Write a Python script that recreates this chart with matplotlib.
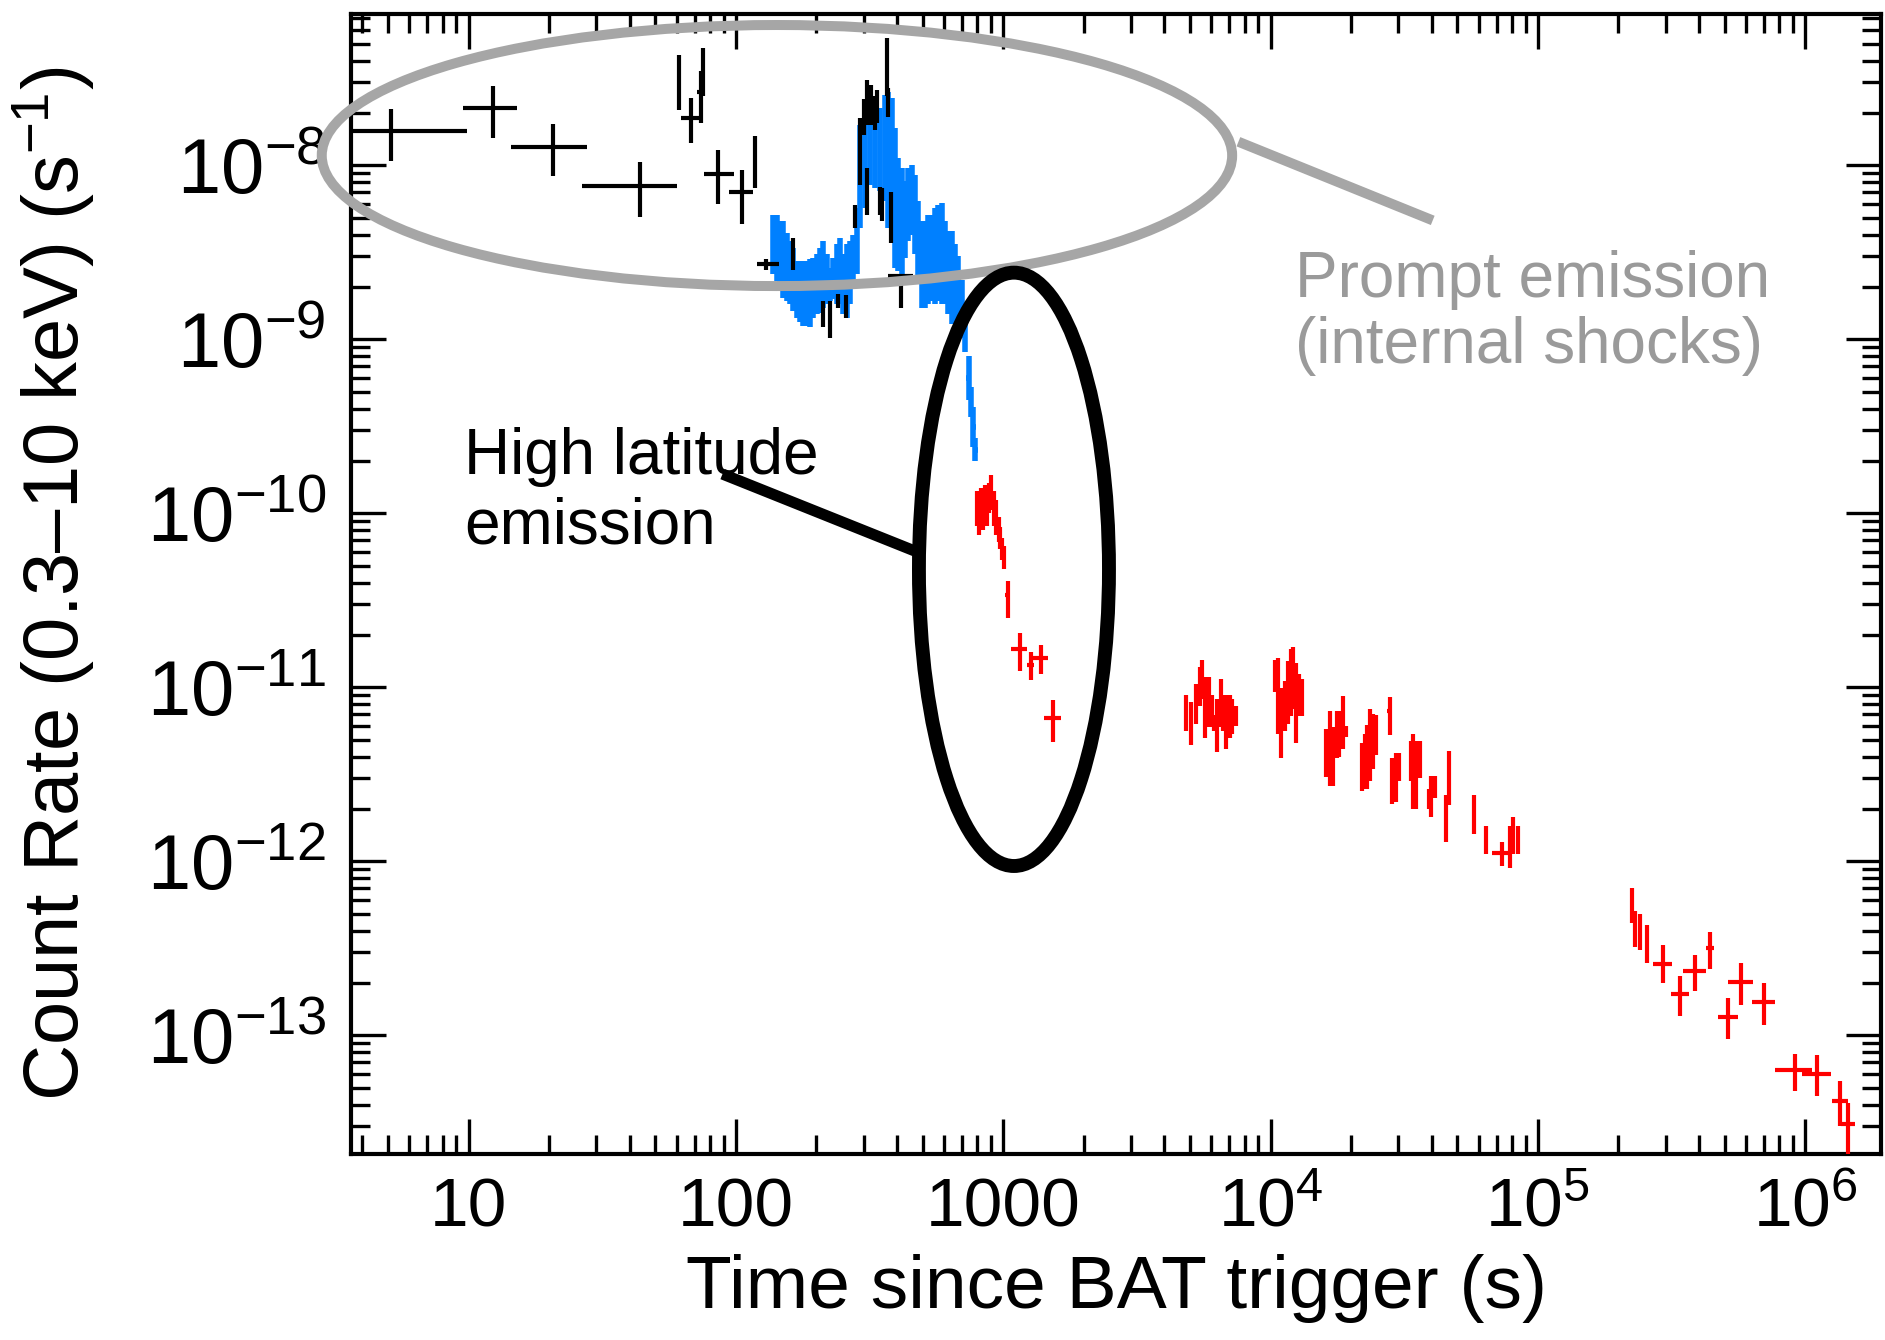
import numpy as np
import matplotlib
matplotlib.use("Agg")
import matplotlib.pyplot as plt
from matplotlib.patches import Ellipse
from matplotlib.ticker import LogLocator, FuncFormatter, NullFormatter

plt.rcParams['font.family'] = ['Liberation Sans', 'DejaVu Sans']
plt.rcParams['mathtext.fontset'] = 'custom'
plt.rcParams['mathtext.rm'] = 'Liberation Sans'
plt.rcParams['mathtext.it'] = 'Liberation Sans:italic'

# --- BAT data extrapolated to XRT band (black), rates in units of 1e-9 ---
bat_t = [5.12, 12.3, 20.7, 43.6, 61.1, 67.6, 75.0, 74.0, 86.0, 105.0, 118.0, 130.0,
         164.0, 212.0, 224.5, 241.0, 259.0, 278.5, 291.0, 300.0, 310.0, 310.0, 320.0,
         330.0, 338.0, 345.0, 352.0, 366.0, 372.0, 380.0, 416.0]
bat_terr_lo = [2.45, 2.77, 6.3, 17.0, 0.8, 5.1, 0.8, 2.5, 10.3, 10.6, 1.5, 10.0,
               1.5, 1.5, 1.5, 1.5, 1.5, 1.5, 1.5, 1.5, 1.5, 1.5, 1.5,
               1.5, 1.5, 1.5, 1.5, 1.5, 1.5, 1.5, 45.0]
bat_terr_hi = [4.70, 2.90, 6.9, 16.8, 0.8, 5.7, 0.8, 2.5, 12.0, 10.6, 1.5, 15.0,
               1.5, 1.5, 1.5, 1.5, 1.5, 1.5, 1.5, 1.5, 1.5, 1.5, 1.5,
               1.5, 1.5, 1.5, 1.5, 1.5, 1.5, 1.5, 45.0]
bat_rate = [15.8, 21.3, 12.8, 7.58, 31.4, 18.7, 35.4, 26.5, 8.96, 7.03, 11.0, 2.7,
            3.1, 1.4, 1.3, 1.65, 1.5, 5.2, 12.0, 19.0, 24.0, 7.0, 23.0,
            20.0, 22.0, 6.5, 6.0, 35.0, 24.0, 5.0, 2.31]
bat_lo = [10.6, 14.4, 8.65, 5.06, 20.8, 13.4, 24.9, 17.5, 6.0, 4.6, 7.4, 2.5,
          2.5, 1.17, 1.02, 1.52, 1.33, 4.38, 7.7, 15.0, 17.0, 5.2, 17.0,
          16.0, 17.5, 5.2, 4.8, 25.0, 19.0, 3.6, 1.52]
bat_hi = [21.1, 28.4, 17.3, 10.4, 43.1, 24.3, 47.1, 35.0, 12.3, 9.45, 14.7, 2.9,
          3.8, 1.66, 1.66, 1.81, 1.8, 5.94, 18.7, 24.0, 31.0, 9.7, 29.0,
          25.0, 27.0, 7.5, 7.4, 54.0, 28.0, 7.0, 2.31]

# --- XRT Windowed Timing data (blue), band limits in units of 1e-9 ---
wt_t = [137.8, 141.9, 146.0, 150.2, 154.6, 159.1, 163.8, 168.5, 173.4, 178.4,
        183.7, 189.0, 194.5, 200.2, 206.0, 212.0, 218.2, 224.5, 231.1, 237.8,
        244.7, 251.9, 259.2, 266.8, 274.5, 282.5, 290.7, 303.5, 316.9, 330.8,
        345.4, 360.6, 371.1, 381.9, 393.0, 404.5, 416.3, 428.4, 440.9, 453.7,
        466.9, 480.5, 494.5, 508.9, 523.8, 539.0, 554.7, 570.9, 587.5, 604.6,
        622.3, 640.4, 659.1, 678.3, 698.1, 718.4, 742.0, 758.0, 773.0, 786.0]
wt_hi = [5.21, 5.21, 4.78, 4.78, 4.09, 3.66, 3.36, 2.82, 2.82, 2.82,
         2.82, 2.88, 2.94, 3.08, 3.36, 3.66, 3.08, 2.58, 2.94, 3.51,
         3.83, 3.08, 3.51, 3.66, 4.00, 5.69, 17.1, 18.7, 17.1, 19.5,
         21.3, 25.4, 26.5, 24.3, 16.4, 11.0, 9.66, 8.09, 9.66, 10.1,
         8.83, 6.22, 4.78, 4.78, 5.21, 5.21, 5.69, 5.94, 6.08, 4.78,
         4.19, 4.19, 3.51, 3.0, 2.2, 1.5, 0.80, 0.53, 0.41, 0.27]
wt_lo = [2.36, 2.16, 1.98, 1.73, 1.66, 1.59, 1.46, 1.33, 1.25, 1.19,
         1.19, 1.17, 1.33, 1.39, 1.42, 1.52, 1.59, 1.66, 1.70, 1.59,
         1.59, 1.39, 1.33, 1.59, 2.07, 2.36, 4.38, 5.69, 7.74, 7.41,
         7.10, 6.22, 4.38, 3.66, 2.58, 2.47, 2.36, 2.94, 3.66, 4.00,
         3.08, 2.16, 1.52, 1.52, 1.59, 1.66, 1.59, 1.66, 1.59, 1.59,
         1.39, 1.22, 1.22, 1.07, 1.02, 0.85, 0.45, 0.36, 0.24, 0.20]

# --- XRT Photon Counting data (red), rates in units of 1e-12 ---
pc_t = [795, 810, 825, 840, 855, 870, 885, 903, 920, 940, 960, 975, 990, 1005, 1040,
        1150, 1264, 1378, 1528,
        4820, 5050, 5270, 5420, 5550, 5690, 5870, 6060, 6160, 6310, 6510, 6620,
        6830, 7030, 7160, 7390,
        10360, 10660, 10960, 11310, 11630, 11910, 12150, 12390, 12740, 13100,
        16170, 16690, 17160, 17640, 18070, 18580, 19100,
        21950, 22470, 22930, 23570, 24230, 24720,
        27850, 28410, 29330, 30160,
        33420, 34110, 35050, 36200,
        39030, 39810, 41100, 45380, 46670, 57820,
        64120, 73380, 78490, 80690, 83970,
        224700, 231100, 240400, 255300, 293200, 341000, 387100, 441300,
        515200, 575900, 702500, 916200, 1109000, 1352000, 1446000]
pc_terr = [10, 10, 10, 10, 10, 10, 10, 10, 10, 10, 12, 12, 18, 18, 22,
           80, 40, 90, 110,
           60, 90, 60, 60, 60, 60, 60, 60, 60, 60, 60, 60,
           60, 60, 60, 90,
           150, 120, 120, 150, 120, 120, 120, 150, 120, 200,
           300, 250, 250, 250, 250, 250, 300,
           300, 250, 250, 250, 250, 300,
           500, 400, 400, 400,
           500, 400, 500, 500,
           500, 600, 600, 600, 700, 800,
           900, 5800, 1500, 1200, 1500,
           4000, 4000, 4000, 4500, 23000, 27000, 39000, 15000,
           44000, 60000, 70000, 145000, 138000, 93000, 87000]
pc_rate = [110, 100, 115, 105, 120, 110, 125, 130, 110, 95, 80, 72, 63, 56, 34,
           16.6, 13.5, 14.8, 6.7,
           7.13, 6.18, 8.2, 10.4, 11.1, 7.64, 8.2, 7.46, 6.18, 6.48, 7.83, 6.95,
           6.33, 6.79, 6.95, 6.9,
           11.4, 7.83, 5.9, 7.83, 9.45, 12.0, 9.0, 8.2, 9.0, 8.6,
           4.24, 4.89, 4.05, 5.37, 5.63, 5.63, 5.63,
           3.51, 3.68, 4.05, 4.66, 4.89, 5.12,
           7.29, 2.9, 3.51, 3.51,
           3.86, 3.51, 2.9, 4.0,
           2.25, 2.3, 2.71, 1.82, 3.05, 1.90,
           1.34, 1.11, 1.24, 1.43, 1.37,
           0.558, 0.421, 0.401, 0.340, 0.257, 0.172, 0.233, 0.317,
           0.128, 0.202, 0.155, 0.063, 0.0603, 0.0417, 0.0311]
pc_lo = [85, 75, 90, 80, 95, 85, 100, 105, 85, 75, 68, 62, 54, 48, 25,
         12.4, 11.0, 12.0, 4.83,
         5.6, 4.66, 6.18, 7.83, 8.6, 5.12, 5.9, 5.9, 5.6, 4.24, 5.9, 5.6,
         4.45, 5.12, 5.4, 6.0,
         9.45, 5.37, 3.9, 5.63, 6.18, 6.8, 7.46, 4.77, 6.8, 6.8,
         3.05, 2.7, 2.7, 3.9, 4.0, 4.4, 5.2,
         2.52, 2.6, 2.6, 2.9, 3.4, 4.1,
         5.3, 2.14, 2.2, 2.9,
         2.9, 2.0, 2.0, 3.0,
         2.0, 1.8, 2.3, 1.3, 2.1, 1.43,
         1.1, 0.94, 0.92, 1.1, 1.1,
         0.44, 0.32, 0.31, 0.26, 0.20, 0.13, 0.18, 0.24,
         0.095, 0.15, 0.115, 0.048, 0.045, 0.030, 0.018]
pc_hi = [135, 130, 140, 135, 145, 140, 150, 165, 135, 120, 95, 84, 72, 65, 41,
         20.5, 16.0, 17.5, 8.45,
         9.0, 8.2, 10.4, 13.1, 14.4, 11.4, 11.4, 9.0, 6.9, 8.6, 11.1, 9.0,
         9.0, 9.0, 8.6, 7.8,
         14.4, 14.8, 9.9, 10.9, 14.1, 16.6, 17.0, 13.8, 12.0, 11.1,
         5.75, 7.28, 5.9, 7.3, 7.3, 8.9, 6.0,
         4.77, 5.4, 6.1, 7.5, 7.0, 6.9,
         8.8, 3.95, 4.2, 4.2,
         4.9, 5.4, 4.9, 4.9,
         2.6, 3.1, 3.1, 2.4, 4.3, 2.4,
         1.6, 1.3, 1.6, 1.8, 1.6,
         0.70, 0.52, 0.50, 0.43, 0.33, 0.22, 0.29, 0.39,
         0.165, 0.26, 0.20, 0.078, 0.077, 0.055, 0.041]

# axis ticks
x_major = [10, 100, 1000, 1e4, 1e5, 1e6]
y_major = [1e-13, 1e-12, 1e-11, 1e-10, 1e-9, 1e-8]


def xfmt(v, pos):
    e = int(round(np.log10(v)))
    if e <= 3:
        return '%d' % round(v)
    return '$10^{%d}$' % e


def yfmt(v, pos):
    e = int(round(np.log10(v)))
    return '$10^{%d}$' % e


fig = plt.figure(figsize=(18.85, 13.4), dpi=100)
ax = fig.add_axes([0.1862, 0.1388, 0.8117, 0.8507])

# blue WT band
wt_t_a = np.array(wt_t)
wt_lo_a = np.array(wt_lo) * 1e-9
wt_hi_a = np.array(wt_hi) * 1e-9
wt_c = np.sqrt(wt_lo_a * wt_hi_a)
ax.errorbar(wt_t_a, wt_c, yerr=[wt_c - wt_lo_a, wt_hi_a - wt_c], xerr=0.02 * wt_t_a,
            fmt='none', ecolor='#0080ff', elinewidth=4.0, capsize=0, zorder=2)

# black BAT points
bat_r = np.array(bat_rate) * 1e-9
ax.errorbar(bat_t, bat_r,
            xerr=[bat_terr_lo, bat_terr_hi],
            yerr=[bat_r - np.array(bat_lo) * 1e-9, np.array(bat_hi) * 1e-9 - bat_r],
            fmt='none', ecolor='black', elinewidth=3.0, capsize=0, zorder=3)

# red PC points
pc_r = np.array(pc_rate) * 1e-12
ax.errorbar(pc_t, pc_r, xerr=pc_terr,
            yerr=[pc_r - np.array(pc_lo) * 1e-12, np.array(pc_hi) * 1e-12 - pc_r],
            fmt='none', ecolor='#ff0000', elinewidth=3.0, capsize=0, zorder=3)

ax.set_xscale('log')
ax.set_yscale('log')
ax.set_xlim(3.63, 1.92e6)
ax.set_ylim(2.08e-14, 7.4e-8)

ax.set_xticks(x_major)
ax.xaxis.set_major_formatter(FuncFormatter(xfmt))
ax.xaxis.set_minor_locator(LogLocator(base=10, subs=np.arange(2, 10), numticks=20))
ax.xaxis.set_minor_formatter(NullFormatter())
ax.set_yticks(y_major)
ax.yaxis.set_major_formatter(FuncFormatter(yfmt))
ax.yaxis.set_minor_locator(LogLocator(base=10, subs=np.arange(2, 10), numticks=20))
ax.yaxis.set_minor_formatter(NullFormatter())

ax.tick_params(which='both', direction='in', top=True, right=True, width=2.4)
ax.tick_params(which='major', length=25)
ax.tick_params(which='minor', length=14)
ax.tick_params(axis='x', which='major', pad=16, labelsize=50)
ax.tick_params(axis='y', which='major', pad=18, labelsize=56)
for s in ax.spines.values():
    s.set_linewidth(3)

ax.set_xlabel('Time since BAT trigger (s)', fontsize=54, labelpad=10)
ax.set_ylabel('Count Rate (0.3\u201310 keV) (s$^{-1}$)', fontsize=56, labelpad=36)

# annotations
ax.add_patch(Ellipse((0.2784, 0.8759), 0.595, 0.229, transform=ax.transAxes,
                     fill=False, edgecolor='#a6a6a6', linewidth=7.2, clip_on=False, zorder=5))
ax.plot([0.580, 0.707], [0.888, 0.819], transform=ax.transAxes, color='#a6a6a6',
        linewidth=7.2, solid_capstyle='butt', clip_on=False, zorder=5)
ax.text(0.617, 0.738, 'Prompt emission\n(internal shocks)', transform=ax.transAxes,
        fontsize=46, color='#9a9a9a', ha='left', va='center', linespacing=1.12, zorder=6)

ax.add_patch(Ellipse((0.4333, 0.5129), 0.1242, 0.5205, transform=ax.transAxes,
                     fill=False, edgecolor='black', linewidth=10, clip_on=False, zorder=5))
ax.plot([0.2428, 0.3686], [0.5965, 0.5289], transform=ax.transAxes, color='black',
        linewidth=8, solid_capstyle='butt', clip_on=False, zorder=5)
ax.text(0.0739, 0.581, 'High latitude\nemission', transform=ax.transAxes,
        fontsize=46, color='black', ha='left', va='center', linespacing=1.2, zorder=6)

fig.savefig('out.png', dpi=100, facecolor='white')
